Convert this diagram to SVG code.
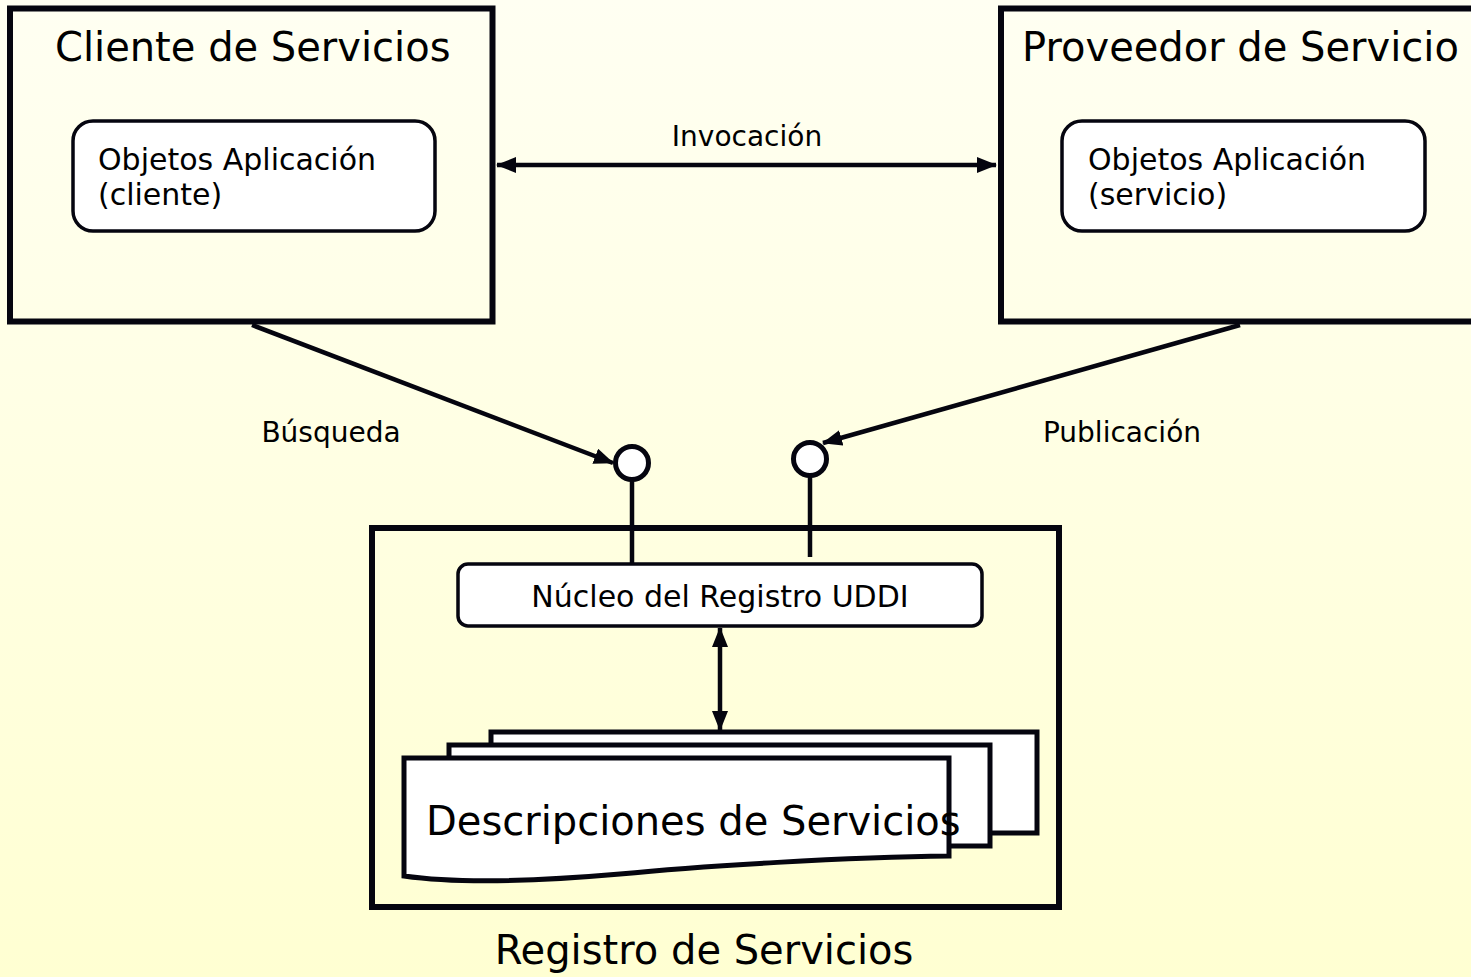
<svg xmlns="http://www.w3.org/2000/svg" width="1471" height="977" viewBox="0 0 1471 977">
<defs>
<linearGradient id="bg" x1="0" y1="0" x2="0" y2="1">
<stop offset="0" stop-color="#FFFFF2"/>
<stop offset="1" stop-color="#FFFFD2"/>
</linearGradient>
<marker id="ah" markerUnits="userSpaceOnUse" markerWidth="20" markerHeight="16" refX="19" refY="8" orient="auto-start-reverse">
<path d="M0,0 L20,8 L0,16 Z" fill="#05050f"/>
</marker>
</defs>
<style>
.box{fill:none;stroke:#05050f;stroke-width:6}
.inner{fill:#fff;stroke:#05050f;stroke-width:3.5}
.doc{fill:#fff;stroke:#05050f;stroke-width:5}
.ln{fill:none;stroke:#05050f;stroke-width:4.5}
.t{font-family:"DejaVu Sans",sans-serif;fill:#000}
.big{font-size:40px}
.mid{font-size:30px}
.sm{font-size:28px}
</style>
<rect width="1471" height="977" fill="url(#bg)"/>

<g id="cliente">
<rect class="box" x="10" y="8.5" width="482.5" height="313"/>
<text class="t big" x="55" y="61">Cliente de Servicios</text>
</g>
<g id="obj-cliente">
<rect class="inner" x="73" y="121" width="362" height="110" rx="20"/>
<text class="t mid" x="98" y="170">Objetos Aplicación</text>
<text class="t mid" x="98" y="205">(cliente)</text>
</g>

<g id="proveedor">
<rect class="box" x="1001" y="8.5" width="480" height="313"/>
<text class="t big" x="1022" y="61">Proveedor de Servicio</text>
</g>
<g id="obj-servicio">
<rect class="inner" x="1062" y="121" width="363" height="110" rx="20"/>
<text class="t mid" x="1088" y="170">Objetos Aplicación</text>
<text class="t mid" x="1088" y="205">(servicio)</text>
</g>

<g id="registro">
<rect class="box" x="372" y="528" width="687" height="379"/>
<text class="t big" x="704" y="964" text-anchor="middle">Registro de Servicios</text>
</g>

<g id="nucleo">
<rect class="inner" x="458" y="564" width="524" height="62" rx="10"/>
<text class="t mid" x="720" y="607" text-anchor="middle">Núcleo del Registro UDDI</text>
</g>

<g id="descripciones">
<rect class="doc" x="491" y="732" width="546" height="101"/>
<rect class="doc" x="449" y="745" width="541" height="101"/>
<path class="doc" d="M404,758 H949 V856 C850,857 700,866 620,874 C540,881 460,884 404,876 Z"/>
<text class="t big" x="426" y="835">Descripciones de Servicios</text>
</g>

<g id="interfaz-busqueda">
<circle cx="632" cy="463" r="16.5" fill="#fff" stroke="#05050f" stroke-width="5"/>
</g>
<g id="interfaz-publicacion">
<circle cx="810" cy="459" r="16.5" fill="#fff" stroke="#05050f" stroke-width="5"/>
</g>

<g id="conectores">
<line class="ln" x1="497" y1="165" x2="996" y2="165" marker-start="url(#ah)" marker-end="url(#ah)"/>
<text class="t sm" x="747" y="146" text-anchor="middle">Invocación</text>
<line class="ln" x1="252" y1="325" x2="613" y2="463" marker-end="url(#ah)"/>
<text class="t sm" x="331" y="442" text-anchor="middle">Búsqueda</text>
<line class="ln" x1="1240" y1="325" x2="823" y2="443" marker-end="url(#ah)"/>
<text class="t sm" x="1122" y="442" text-anchor="middle">Publicación</text>
<line class="ln" x1="632" y1="480" x2="632" y2="564"/>
<line class="ln" x1="810" y1="476" x2="810" y2="557"/>
<line class="ln" x1="720" y1="628" x2="720" y2="730" marker-start="url(#ah)" marker-end="url(#ah)"/>
</g>
</svg>
